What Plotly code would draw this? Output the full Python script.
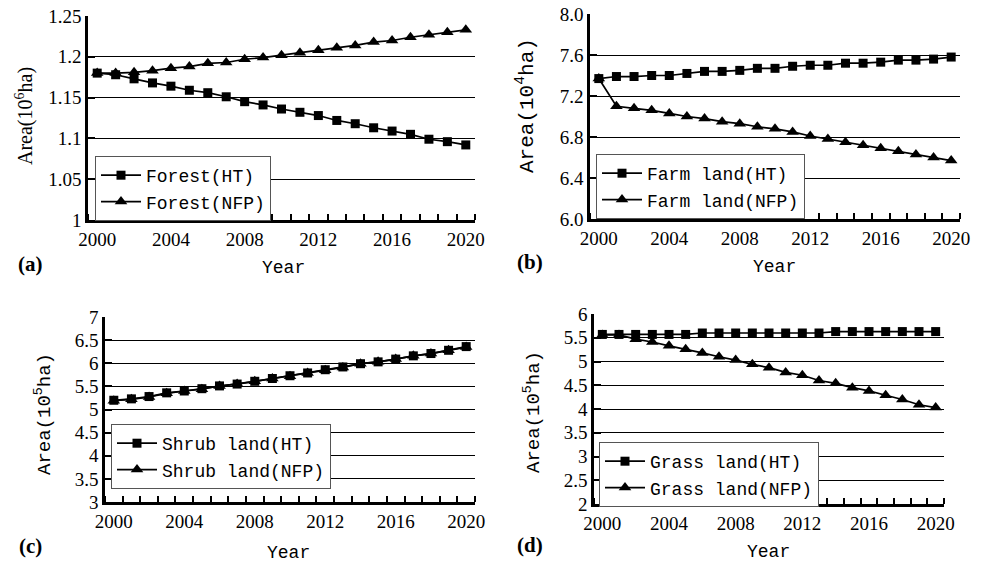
import plotly.graph_objects as go

W, H = 983, 564

years = list(range(2000, 2021))
x_tick_labels = [2000, 2004, 2008, 2012, 2016, 2020]

forest_ht = [1.180, 1.178, 1.173, 1.168, 1.164, 1.159, 1.156, 1.151, 1.145, 1.141, 1.136,
             1.132, 1.128, 1.122, 1.118, 1.113, 1.109, 1.105, 1.099, 1.096, 1.092]
forest_nfp = [1.180, 1.180, 1.181, 1.183, 1.186, 1.188, 1.192, 1.193, 1.197, 1.199, 1.202,
              1.205, 1.208, 1.211, 1.214, 1.218, 1.220, 1.224, 1.227, 1.230, 1.233]

farm_ht = [7.37, 7.39, 7.39, 7.40, 7.40, 7.42, 7.44, 7.44, 7.45, 7.47, 7.47,
           7.49, 7.50, 7.50, 7.52, 7.52, 7.53, 7.55, 7.55, 7.56, 7.58]
farm_nfp = [7.37, 7.10, 7.08, 7.06, 7.03, 7.00, 6.98, 6.95, 6.93, 6.90, 6.88,
            6.85, 6.81, 6.78, 6.75, 6.72, 6.69, 6.66, 6.63, 6.60, 6.57]

shrub_ht = [5.20, 5.23, 5.28, 5.36, 5.40, 5.45, 5.51, 5.55, 5.61, 5.67, 5.73,
            5.79, 5.86, 5.92, 5.99, 6.03, 6.09, 6.16, 6.21, 6.28, 6.36]
shrub_nfp = [5.19, 5.22, 5.27, 5.35, 5.40, 5.44, 5.51, 5.55, 5.61, 5.67, 5.72,
             5.79, 5.85, 5.91, 5.99, 6.03, 6.09, 6.16, 6.21, 6.28, 6.35]

grass_ht = [5.57, 5.57, 5.57, 5.57, 5.57, 5.57, 5.60, 5.60, 5.60, 5.60, 5.60,
            5.60, 5.60, 5.60, 5.63, 5.63, 5.63, 5.63, 5.63, 5.63, 5.63]
grass_nfp = [5.56, 5.56, 5.47, 5.41, 5.33, 5.26, 5.18, 5.10, 5.03, 4.94, 4.87,
             4.77, 4.71, 4.60, 4.54, 4.45, 4.38, 4.29, 4.20, 4.09, 4.03]

SERIF = "Liberation Serif"
MONO = "Liberation Mono"

panels = [
    dict(ht=forest_ht, nfp=forest_nfp, names=("Forest(HT)", "Forest(NFP)"),
         yrange=[1.0, 1.25], dtick=0.05, fmt="", ytitle="Area(10<sup>6</sup>ha)",
         px=(88, 475), py=(16, 220), legend=(95, 156), letter="(a)", letter_xy=(30, 264),
         year_xy=(283, 268), ytitle_xy=(25, 116), tfont=(SERIF, 20)),
    dict(ht=farm_ht, nfp=farm_nfp, names=("Farm land(HT)", "Farm land(NFP)"),
         yrange=[6.0, 8.0], dtick=0.4, fmt=".1f", ytitle="Area(10<sup>4</sup>ha)",
         px=(590, 960), py=(14, 219), legend=(596, 154), letter="(b)", letter_xy=(530, 262),
         year_xy=(774, 267), ytitle_xy=(525, 106), tfont=(MONO, 21)),
    dict(ht=shrub_ht, nfp=shrub_nfp, names=("Shrub land(HT)", "Shrub land(NFP)"),
         yrange=[3, 7], dtick=0.5, fmt="", ytitle="Area(10<sup>5</sup>ha)",
         px=(105, 475), py=(317, 502), legend=(111, 424), letter="(c)", letter_xy=(30, 546),
         year_xy=(288, 553), ytitle_xy=(43, 414), tfont=(MONO, 19)),
    dict(ht=grass_ht, nfp=grass_nfp, names=("Grass land(HT)", "Grass land(NFP)"),
         yrange=[2, 6], dtick=0.5, fmt="", ytitle="Area(10<sup>5</sup>ha)",
         px=(594, 944), py=(314, 504), legend=(599, 442), letter="(d)", letter_xy=(530, 545),
         year_xy=(768, 552), ytitle_xy=(532, 412), tfont=(MONO, 19)),
]

fig = go.Figure()
layout = dict(width=W, height=H, margin=dict(l=0, r=0, t=0, b=0, autoexpand=False),
              paper_bgcolor="white", plot_bgcolor="white", showlegend=True)
annotations = []

for i, p in enumerate(panels):
    n = i + 1
    xa = "x" if n == 1 else f"x{n}"
    ya = "y" if n == 1 else f"y{n}"
    lg = "legend" if n == 1 else f"legend{n}"
    for vals, name, sym, size in ((p["ht"], p["names"][0], "square", 9),
                                  (p["nfp"], p["names"][1], "triangle-up", 11)):
        fig.add_trace(go.Scatter(
            x=years, y=vals, name=name, mode="lines+markers",
            line=dict(color="black", width=1.7),
            marker=dict(symbol=sym, size=size, color="black"),
            xaxis=xa, yaxis=ya, legend=lg, showlegend=True, cliponaxis=False))

    xdom = [p["px"][0] / W, p["px"][1] / W]
    ydom = [(H - p["py"][1]) / H, (H - p["py"][0]) / H]
    xkey = "xaxis" if n == 1 else f"xaxis{n}"
    ykey = "yaxis" if n == 1 else f"yaxis{n}"
    layout[xkey] = dict(
        domain=xdom, anchor=ya, range=[1999.5, 2020.5], automargin=False,
        tickmode="array", tickvals=x_tick_labels, ticks="",
        showgrid=False, zeroline=False,
        showline=True, linecolor="black", linewidth=2.5,
        tickfont=dict(family=SERIF, size=19, color="black"),
        minor=dict(tick0=1999.5, dtick=1, ticks="inside", ticklen=6,
                   tickwidth=2, tickcolor="black", showgrid=False),
    )
    layout[ykey] = dict(
        domain=ydom, anchor=xa, range=p["yrange"], dtick=p["dtick"], tick0=p["yrange"][0],
        tickformat=p["fmt"], ticks="inside", ticklen=7, tickwidth=2, tickcolor="black",
        showgrid=True, gridcolor="black", gridwidth=1.3, zeroline=False, automargin=False,
        showline=True, linecolor="black", linewidth=2.5,
        tickfont=dict(family=SERIF, size=19, color="black"),
    )
    layout[lg] = dict(
        x=p["legend"][0] / W, y=(H - p["legend"][1]) / H, xanchor="left", yanchor="top",
        xref="paper", yref="paper",
        bgcolor="white", bordercolor="#555555", borderwidth=1,
        font=dict(family=MONO, size=18, color="black"),
        itemwidth=40, tracegroupgap=0,
    )
    annotations.append(dict(text=f"<b>{p['letter']}</b>", x=p["letter_xy"][0] / W,
                            y=(H - p["letter_xy"][1]) / H, xref="paper", yref="paper",
                            showarrow=False, xanchor="center", yanchor="middle",
                            font=dict(family=SERIF, size=21, color="black")))
    annotations.append(dict(text="Year", x=p["year_xy"][0] / W,
                            y=(H - p["year_xy"][1]) / H, xref="paper", yref="paper",
                            showarrow=False, xanchor="center", yanchor="middle",
                            font=dict(family=MONO, size=18, color="black")))
    annotations.append(dict(text=p["ytitle"], x=p["ytitle_xy"][0] / W,
                            y=(H - p["ytitle_xy"][1]) / H, xref="paper", yref="paper",
                            showarrow=False, xanchor="center", yanchor="middle", textangle=-90,
                            font=dict(family=p["tfont"][0], size=p["tfont"][1], color="black")))

layout["annotations"] = annotations
fig.update_layout(**layout)
fig.write_html("out.html", config={"displayModeBar": False},
               post_script="document.body.style.margin='0';document.body.style.overflow='hidden';")
